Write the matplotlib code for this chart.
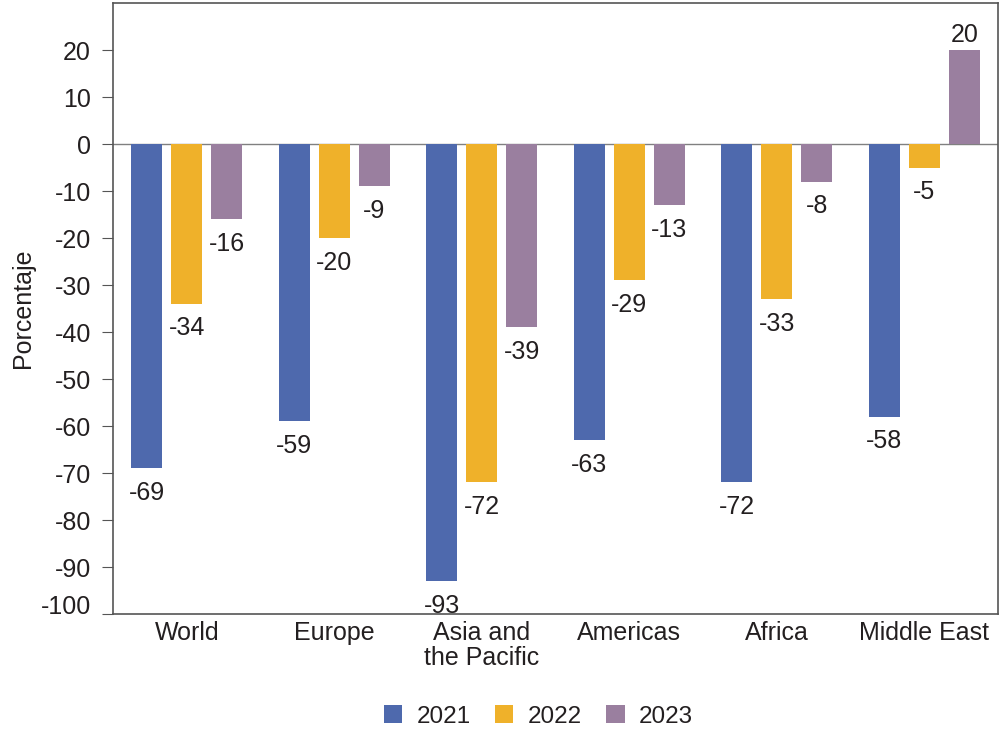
import matplotlib.pyplot as plt
import numpy as np

plt.rcParams['font.family'] = ['Liberation Sans', 'DejaVu Sans']
plt.rcParams['axes.unicode_minus'] = False

regions = ['World', 'Europe', 'Asia and\nthe Pacific', 'Americas', 'Africa', 'Middle East']
years = ['2021', '2022', '2023']
v2021 = [-69, -59, -93, -63, -72, -58]
v2022 = [-34, -20, -72, -29, -33, -5]
v2023 = [-16, -9, -39, -13, -8, 20]
colors = ['#4e69ad', '#efb12a', '#9a7f9f']

txt = '#231f20'
fs = 18
fig = plt.figure(figsize=(10.01, 7.32), dpi=100)
ax = fig.add_axes([0.1129, 0.1612, 0.8841, 0.8347])

x = np.arange(len(regions))
w = 0.21
step = 0.272
for i, (vals, c, lab) in enumerate(zip([v2021, v2022, v2023], colors, years)):
    pos = x + (i - 1) * step
    ax.bar(pos, vals, width=w, color=c, label=lab, zorder=2)
    for xp, v in zip(pos, vals):
        if v < 0:
            ax.annotate(str(v), (xp, v), xytext=(0, -9), textcoords='offset points',
                        ha='center', va='top', fontsize=fs, color=txt)
        else:
            ax.annotate(str(v), (xp, v), xytext=(0, 2), textcoords='offset points',
                        ha='center', va='bottom', fontsize=fs, color=txt)

ax.axhline(0, color='#808080', lw=1, zorder=1)
ax.set_xlim(-0.5, len(regions) - 0.5)
ax.set_ylim(-100, 30)
ax.set_yticks(np.arange(-100, 30, 10))
ax.set_xticks(x)
ax.set_xticklabels(regions, fontsize=fs, color=txt, linespacing=1.05)
ax.tick_params(axis='x', length=0, pad=5)
ax.tick_params(axis='y', labelsize=fs, labelcolor=txt, length=8, color='#555555', pad=8)
for lbl in ax.get_yticklabels():
    if lbl.get_text() == '-100':
        lbl.set_va('baseline')
ax.set_ylabel('Porcentaje', fontsize=fs, color=txt, labelpad=4)
for s in ax.spines.values():
    s.set_color('#555555')
    s.set_linewidth(1.2)

fig.legend(loc='center', bbox_to_anchor=(0.538, 0.021), ncol=3, frameon=False,
           fontsize=17.5, handlelength=0.75, handleheight=0.75, handletextpad=0.6,
           columnspacing=1.0, labelcolor=txt)

fig.savefig('out.png', dpi=100)
